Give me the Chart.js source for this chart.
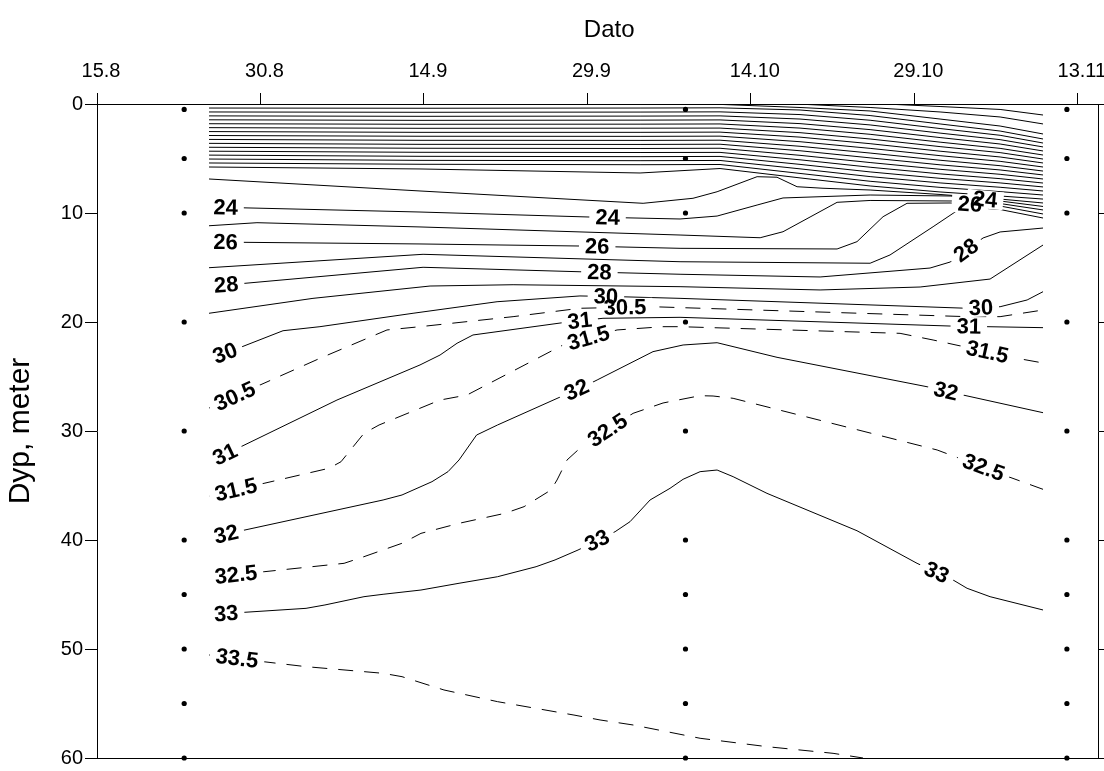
<!DOCTYPE html>
<html>
<head>
<meta charset="utf-8">
<script src="https://cdn.jsdelivr.net/npm/chart.js@4.4.1/dist/chart.umd.min.js"></script>
<style>
  html, body { margin: 0; padding: 0; background: #fff; }
</style>
</head>
<body>
<canvas id="myChart" width="1104" height="771"></canvas>
<script>
// date axis: days after 15.8, labelled every 15 days
const dateTicks = ['15.8', '30.8', '14.9', '29.9', '14.10', '29.10', '13.11'];

// sampling stations (days after 15.8) and sample depths (m)
const stationDays = [8, 54, 89];
const sampleDepths = [0.5, 5, 10, 20, 30, 40, 45, 50, 55, 60];

// thin unlabelled isolines near the surface (values 7..22), read at common days
const bundleDays = [10.28, 29.64, 49.83, 57.17, 64.51, 70.94, 77.36, 82.87, 86.81];
const bundleDepths = [
  [0.37, 0.39, 0.37, 0.35, 0.55, 1.06, 1.83, 2.48, 3.21],
  [0.73, 0.76, 0.74, 0.72, 0.97, 1.49, 2.25, 2.87, 3.58],
  [1.09, 1.13, 1.11, 1.09, 1.38, 1.92, 2.67, 3.27, 3.94],
  [1.45, 1.50, 1.48, 1.46, 1.80, 2.35, 3.08, 3.67, 4.31],
  [1.81, 1.86, 1.85, 1.83, 2.21, 2.78, 3.50, 4.07, 4.68],
  [2.17, 2.23, 2.22, 2.21, 2.63, 3.21, 3.91, 4.46, 5.05],
  [2.53, 2.60, 2.60, 2.58, 3.04, 3.64, 4.33, 4.86, 5.41],
  [2.89, 2.96, 2.97, 2.95, 3.46, 4.07, 4.74, 5.26, 5.78],
  [3.25, 3.33, 3.34, 3.32, 3.88, 4.50, 5.16, 5.66, 6.15],
  [3.61, 3.70, 3.71, 3.69, 4.29, 4.94, 5.58, 6.05, 6.51],
  [3.97, 4.06, 4.08, 4.06, 4.71, 5.37, 5.99, 6.45, 6.88],
  [4.33, 4.43, 4.45, 4.44, 5.12, 5.80, 6.41, 6.85, 7.25],
  [4.69, 4.80, 4.83, 4.81, 5.54, 6.23, 6.82, 7.24, 7.61],
  [5.05, 5.17, 5.20, 5.18, 5.95, 6.66, 7.24, 7.64, 7.98],
  [5.41, 5.53, 5.57, 5.55, 6.37, 7.09, 7.65, 8.04, 8.35],
  [5.78, 5.96, 6.33, 5.92, 6.78, 7.52, 8.07, 8.44, 8.72]
];

// fresher isolines reaching the surface later in the season [day, depth]
const c6 = [[56.25, 0], [64.51, 0.32], [70.94, 0.64], [77.36, 1.38], [82.87, 2.02], [86.81, 2.75]];
const c5 = [[64.24, 0], [70.94, 0.32], [77.36, 0.73], [82.87, 1.19], [86.81, 1.83]];
const c4 = [[72.31, 0], [77.36, 0.23], [82.87, 0.50], [86.81, 1.01]];

// salinity isolines [day, depth]
const c23 = [[10.28, 6.88], [29.64, 7.98], [50.11, 9.11], [54.69, 8.65], [56.9, 8.05], [60.57, 6.67], [62.4, 6.72],
  [64.24, 7.59], [66.62, 7.73], [70.94, 7.89], [77.36, 8.30], [82.87, 8.72], [86.81, 9.08]];
const c24 = [[10.28, 9.45], [29.64, 9.91], [45.24, 10.37], [53.5, 10.55], [56.9, 10.28], [60.57, 9.27], [62.95, 8.62],
  [70.94, 8.35], [78.28, 8.44], [82.87, 8.90], [86.81, 9.40]];
const c25 = [[10.28, 11.17], [14.68, 10.89], [29.64, 11.28], [53.5, 12.02], [60.85, 12.27], [62.95, 11.72], [65.43, 10.37],
  [67.91, 9.02], [70.94, 8.85], [78.56, 8.90], [82.87, 9.13], [86.81, 9.72]];
const c26 = [[10.28, 12.66], [29.64, 12.84], [44.32, 13.03], [53.5, 13.24], [67.91, 13.30], [69.74, 12.63], [72.13, 10.34],
  [74.33, 9.11], [78.28, 9.08], [82.87, 9.36], [86.81, 10.09]];
const c27 = [[10.28, 15.02], [29.92, 13.79], [53.5, 14.47], [70.94, 14.61], [72.77, 13.85], [76.72, 11.26], [79.47, 9.42],
  [82.87, 9.68], [86.81, 10.46]];
const c28 = [[10.28, 16.70], [13.58, 16.45], [29.92, 14.98], [44.32, 15.39], [53.5, 15.62], [66.35, 15.87], [76.44, 15.05],
  [78.28, 14.50], [81.31, 12.29], [82.87, 11.74], [86.81, 11.38]];
const c29 = [[10.28, 19.20], [19.82, 17.83], [30.56, 16.70], [38.18, 16.58], [53.5, 16.76], [66.35, 17.06], [75.53, 16.79],
  [81.95, 16.06], [86.81, 12.94]];
const c30 = [[10.28, 23.39], [13.31, 22.27], [17.07, 20.80], [20.46, 20.43], [29.0, 19.20], [36.71, 18.14], [44.32, 17.61],
  [47.99, 17.68], [53.5, 17.83], [79.84, 18.74], [82.87, 18.60], [85.35, 17.98], [86.81, 17.22]];
const c30_5 = [[10.28, 27.89], [14.96, 25.78], [20.46, 23.33], [26.61, 20.73], [29.64, 20.43], [38.18, 19.51], [44.32, 18.74],
  [51.02, 18.60], [79.84, 19.51], [82.87, 19.51], [86.81, 18.90]];
const c31 = [[10.28, 32.84], [13.21, 31.44], [22.02, 27.16], [29.64, 23.94], [31.48, 23.03], [33.04, 21.95], [34.50, 21.19],
  [42.76, 20.06], [46.43, 19.66], [53.5, 19.57], [78.28, 20.37], [86.81, 20.52]];
const c31_5 = [[10.28, 35.96], [15.33, 34.80], [21.29, 33.42], [22.39, 32.82], [24.50, 30.21], [25.88, 29.45], [31.48, 27.16],
  [33.95, 26.70], [42.76, 22.11], [47.72, 20.73], [51.94, 20.43], [53.5, 20.43], [73.69, 21.04], [76.72, 21.65],
  [84.43, 23.33], [86.81, 23.76]];
const c32 = [[10.28, 39.82], [13.58, 39.08], [26.25, 36.33], [27.99, 35.87], [30.74, 34.65], [32.21, 33.73], [33.22, 32.66],
  [34.83, 30.37], [36.75, 29.45], [44.97, 25.78], [45.89, 25.32], [51.02, 22.72], [53.78, 22.11], [56.9, 21.90],
  [62.4, 23.24], [76.17, 25.94], [79.47, 26.70], [86.81, 28.32]];
const c32_5 = [[10.28, 43.44], [15.33, 42.91], [22.67, 42.14], [24.50, 41.53], [27.99, 40.30], [29.73, 39.39], [33.22, 38.47],
  [37.44, 37.55], [39.19, 36.94], [41.66, 35.41], [42.21, 34.50], [43.13, 32.66], [44.14, 31.74], [49.19, 28.38],
  [51.94, 27.43], [55.34, 26.76], [56.53, 26.79], [58.37, 27.0], [77.09, 31.74], [83.78, 34.25], [86.81, 35.35]];
const c33 = [[10.28, 46.85], [13.58, 46.63], [19.18, 46.27], [20.92, 45.96], [24.50, 45.20], [26.25, 44.98], [29.73, 44.59],
  [33.22, 43.97], [36.75, 43.37], [40.29, 42.45], [42.03, 41.83], [44.14, 40.92], [47.54, 39.24], [48.91, 38.32],
  [50.75, 36.33], [52.58, 35.26], [53.78, 34.43], [55.34, 33.73], [56.9, 33.58], [58.37, 34.19], [61.48, 35.72],
  [69.74, 39.15], [75.25, 42.14], [78.56, 43.67], [79.84, 44.43], [81.95, 45.20], [86.81, 46.42]];
const c33_5 = [[10.28, 50.55], [15.33, 51.17], [19.18, 51.62], [26.25, 52.23], [27.99, 52.54], [31.84, 53.76], [36.75, 54.83],
  [43.77, 56.06], [46.16, 56.51], [49.19, 56.97], [55.34, 58.19], [61.48, 58.96], [67.54, 59.57], [70.29, 60.0]];

// where the isoline values are written: [value, day]
const labelSpots = [
  ['24', 11.8], ['26', 11.8], ['28', 11.85], ['30', 11.75], ['30.5', 12.65], ['31', 11.75],
  ['31.5', 12.75], ['32', 11.85], ['32.5', 12.75], ['33', 11.85], ['33.5', 12.85],
  ['24', 46.85], ['26', 45.9], ['28', 46.1], ['30', 46.7], ['30.5', 48.45], ['31', 44.3],
  ['31.5', 45.1], ['32', 44.0], ['32.5', 46.85], ['33', 45.9],
  ['26', 80.1], ['24', 81.5], ['28', 79.75], ['30', 81.1], ['31', 80.0], ['31.5', 81.7],
  ['32', 77.9], ['32.5', 81.35], ['33', 77.05]
];

const byValue = { '24': c24, '26': c26, '28': c28, '30': c30, '30.5': c30_5, '31': c31, '31.5': c31_5,
  '32': c32, '32.5': c32_5, '33': c33, '33.5': c33_5 };

Chart.defaults.font.family = "'Liberation Sans', Arial, sans-serif";
Chart.defaults.color = '#000';

function iso(points, dashed) {
  return {
    data: points.map(p => ({ x: p[0], y: p[1] })),
    showLine: true,
    borderColor: '#000',
    borderWidth: 1,
    borderDash: dashed ? [15, 11] : [],
    pointRadius: 0,
    tension: 0,
    fill: false
  };
}

const datasets = [];
bundleDepths.forEach(row => datasets.push(iso(row.map((d, i) => [bundleDays[i], d]), false)));
[c6, c5, c4, c23, c24, c25, c26, c27, c28, c29, c30, c31, c32, c33].forEach(c => datasets.push(iso(c, false)));
[c30_5, c31_5, c32_5, c33_5].forEach(c => datasets.push(iso(c, true)));
datasets.push({
  data: stationDays.flatMap(d => sampleDepths.map(z => ({ x: d, y: z }))),
  showLine: false,
  pointRadius: 2.6,
  pointBackgroundColor: '#000',
  pointBorderWidth: 0,
  clip: false
});

// find depth and local direction of an isoline at a given day
function locate(pts, day) {
  for (let i = 0; i < pts.length - 1; i++) {
    const a = pts[i], b = pts[i + 1];
    if (day >= a[0] && day <= b[0]) {
      const t = (day - a[0]) / (b[0] - a[0]);
      return { depth: a[1] + t * (b[1] - a[1]), a, b };
    }
  }
  return { depth: pts[0][1], a: pts[0], b: pts[1] };
}

const isoLabels = {
  id: 'isoLabels',
  afterDatasetsDraw(chart) {
    const { ctx, scales: { x, y } } = chart;
    ctx.save();
    ctx.font = "bold 22px 'Liberation Sans', Arial, sans-serif";
    ctx.textAlign = 'center';
    ctx.textBaseline = 'middle';
    const items = labelSpots.map(([txt, day]) => {
      const loc = locate(byValue[txt], day);
      const ang = Math.atan2(y.getPixelForValue(loc.b[1]) - y.getPixelForValue(loc.a[1]),
        x.getPixelForValue(loc.b[0]) - x.getPixelForValue(loc.a[0]));
      return { txt, px: x.getPixelForValue(day), py: y.getPixelForValue(loc.depth), ang, w: ctx.measureText(txt).width };
    });
    ctx.fillStyle = '#fff';
    items.forEach(l => {
      ctx.save();
      ctx.translate(l.px, l.py);
      ctx.rotate(l.ang);
      ctx.fillRect(-l.w / 2 - 6, -9, l.w + 12, 18);
      ctx.restore();
    });
    ctx.fillStyle = '#000';
    items.forEach(l => {
      ctx.save();
      ctx.translate(l.px, l.py);
      ctx.rotate(l.ang);
      ctx.fillText(l.txt, 0, 1);
      ctx.restore();
    });
    // axis caption above the date labels, a little right of centre as in the original
    ctx.font = "24px 'Liberation Sans', Arial, sans-serif";
    ctx.fillText('Dato', x.getPixelForValue(47), 30);
    ctx.restore();
  }
};

const ctx = document.getElementById('myChart').getContext('2d');
new Chart(ctx, {
  type: 'scatter',
  data: { datasets },
  plugins: [isoLabels],
  options: {
    responsive: false,
    animation: false,
    layout: { padding: 0 },
    plugins: { legend: { display: false }, tooltip: { enabled: false } },
    scales: {
      x: {
        type: 'linear', position: 'top', min: 0, max: 91.9,
        afterBuildTicks: s => { s.ticks = dateTicks.map((_, i) => ({ value: i * 15 })); },
        ticks: { font: { size: 20 }, padding: 10, labelOffset: 4, maxRotation: 0, autoSkip: false,
          callback: (v, i) => dateTicks[i] },
        grid: { drawOnChartArea: false, drawTicks: true, tickLength: 11, color: '#000' },
        border: { display: true, color: '#000' },
        afterFit: s => { s.height = 104; s.paddingLeft = 0; s.paddingRight = 0; }
      },
      x2: {
        type: 'linear', position: 'bottom', min: 0, max: 91.9,
        ticks: { display: false },
        grid: { display: false, drawTicks: false },
        border: { display: true, color: '#000' },
        afterFit: s => { s.height = 13; s.paddingLeft = 0; s.paddingRight = 0; }
      },
      y: {
        type: 'linear', position: 'left', reverse: true, min: 0, max: 60,
        ticks: { stepSize: 10, font: { size: 20 }, padding: 2 },
        grid: { drawOnChartArea: false, tickLength: 12, color: '#000' },
        border: { display: true, color: '#000' },
        title: { display: true, text: 'Dyp, meter', font: { size: 30 }, padding: { top: 3, bottom: 0 } },
        afterFit: s => { s.width = 97; s.paddingTop = 0; s.paddingBottom = 0; }
      },
      y2: {
        type: 'linear', position: 'right', reverse: true, min: 0, max: 60,
        ticks: { stepSize: 10, display: false },
        grid: { drawOnChartArea: false, tickLength: 6, color: '#000' },
        border: { display: true, color: '#000' },
        afterFit: s => { s.width = 5.5; s.paddingTop = 0; s.paddingBottom = 0; }
      }
    }
  }
});
</script>
</body>
</html>
